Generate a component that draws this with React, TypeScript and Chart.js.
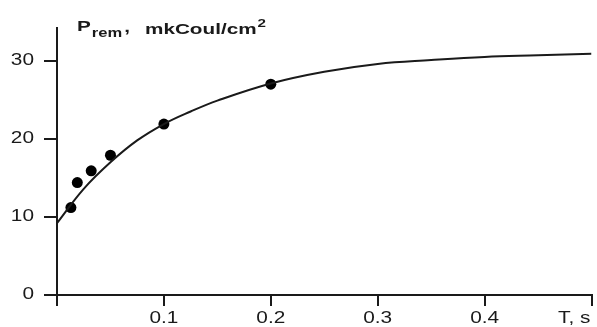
import React, { useEffect, useRef } from "react";
import { Chart, registerables } from "chart.js";

Chart.register(...registerables);

const pointT = [0.013, 0.019, 0.032, 0.05, 0.1, 0.2];
const pointP = [11.2, 14.4, 15.9, 17.9, 21.9, 27.0];

const curveT = [0, 0.025, 0.05, 0.075, 0.1, 0.125, 0.15, 0.2, 0.25, 0.3, 0.35, 0.4, 0.45, 0.5];
const curveP = [9.2, 13.6, 17.0, 19.8, 21.9, 23.5, 24.9, 27.1, 28.6, 29.6, 30.1, 30.5, 30.7, 30.9];

const xTickValues = [0.1, 0.2, 0.3, 0.4];
const xTickLabels = ["0.1", "0.2", "0.3", "0.4"];
const yTickValues = [0, 10, 20, 30];
const yTickLabels = ["0", "10", "20", "30"];
const xAxisName = "T, s";

const INK = "#1a1a1a";

function stretchedText(ctx: CanvasRenderingContext2D, text: string, x: number, y: number, font: string, align: "left" | "right" | "center", baseline: CanvasTextBaseline, sx: number) {
  ctx.save();
  ctx.font = font;
  ctx.textBaseline = baseline;
  ctx.textAlign = "left";
  const w = ctx.measureText(text).width * sx;
  let left = x;
  if (align === "right") left = x - w;
  if (align === "center") left = x - w / 2;
  ctx.translate(left, y);
  ctx.scale(sx, 1);
  ctx.fillStyle = INK;
  ctx.fillText(text, 0, 0);
  ctx.restore();
  return w;
}

const labelsPlugin = {
  id: "customLabels",
  afterDraw(chart: any) {
    const ctx: CanvasRenderingContext2D = chart.ctx;
    const xs = chart.scales.x;
    const ys = chart.scales.y;
    const tickFont = "16px 'Liberation Sans', Arial, sans-serif";
    const TS = 1.3;
    yTickValues.forEach((v, i) => {
      stretchedText(ctx, yTickLabels[i], 34, ys.getPixelForValue(v), tickFont, "right", "middle", TS);
    });
    xTickValues.forEach((v, i) => {
      stretchedText(ctx, xTickLabels[i], xs.getPixelForValue(v), 319, tickFont, "center", "middle", TS);
    });
    stretchedText(ctx, xAxisName, 558, 319, tickFont, "left", "middle", TS);

    // title: P_rem , mkCoul/cm^2
    const SX = 1.38;
    const bold15 = "bold 15px 'Liberation Sans', Arial, sans-serif";
    const bold12 = "bold 12px 'Liberation Sans', Arial, sans-serif";
    const bold11 = "bold 11px 'Liberation Sans', Arial, sans-serif";
    let x = 77;
    x += stretchedText(ctx, "P", x, 31, bold15, "left", "alphabetic", SX);
    x += 1;
    x += stretchedText(ctx, "rem", x, 37, bold12, "left", "alphabetic", SX);
    x += 2;
    stretchedText(ctx, ",", x, 32, bold15, "left", "alphabetic", SX);
    const w = stretchedText(ctx, "mkCoul/cm", 145, 34, bold15, "left", "alphabetic", SX);
    stretchedText(ctx, "2", 145 + w + 1, 27, bold11, "left", "alphabetic", SX);
  },
};

export default function App() {
  const ref = useRef<HTMLCanvasElement | null>(null);
  useEffect(() => {
    document.body.style.margin = "0";
    const canvas = ref.current;
    if (!canvas) return;
    const chart = new Chart(canvas, {
      type: "scatter",
      data: {
        datasets: [
          {
            type: "line",
            data: curveT.map((t, i) => ({ x: t, y: curveP[i] })),
            borderColor: INK,
            borderWidth: 2,
            pointRadius: 0,
            tension: 0.4,
            fill: false,
          } as any,
          {
            type: "scatter",
            data: pointT.map((t, i) => ({ x: t, y: pointP[i] })),
            backgroundColor: "#000",
            borderColor: "#000",
            pointRadius: 5.5,
            pointBorderWidth: 0,
          },
        ],
      },
      options: {
        animation: false,
        responsive: false,
        maintainAspectRatio: false,
        layout: { padding: { left: 0, right: 3, top: 28, bottom: 0 } },
        plugins: { legend: { display: false }, tooltip: { enabled: false } },
        scales: {
          x: {
            type: "linear",
            min: 0,
            max: 0.5,
            ticks: { display: false, stepSize: 0.1, includeBounds: false } as any,
            grid: { drawOnChartArea: false, drawTicks: true, tickLength: 11, color: INK, lineWidth: 2 },
            border: { display: true, color: INK, width: 2 },
            afterFit: (s: any) => { s.height = 32; },
          },
          y: {
            type: "linear",
            min: 0,
            max: 34.2,
            ticks: { display: false, stepSize: 10, includeBounds: false } as any,
            grid: { drawOnChartArea: false, drawTicks: true, tickLength: 13, color: INK, lineWidth: 2 },
            border: { display: true, color: INK, width: 2 },
            afterFit: (s: any) => { s.width = 57; },
          },
        },
      },
      plugins: [labelsPlugin],
    });
    return () => chart.destroy();
  }, []);
  return (
    <div style={{ position: "absolute", left: 0, top: 0, width: 597, height: 327, background: "#fff" }}>
      <canvas ref={ref} width={597} height={327} style={{ display: "block", width: 597, height: 327 }} />
    </div>
  );
}
